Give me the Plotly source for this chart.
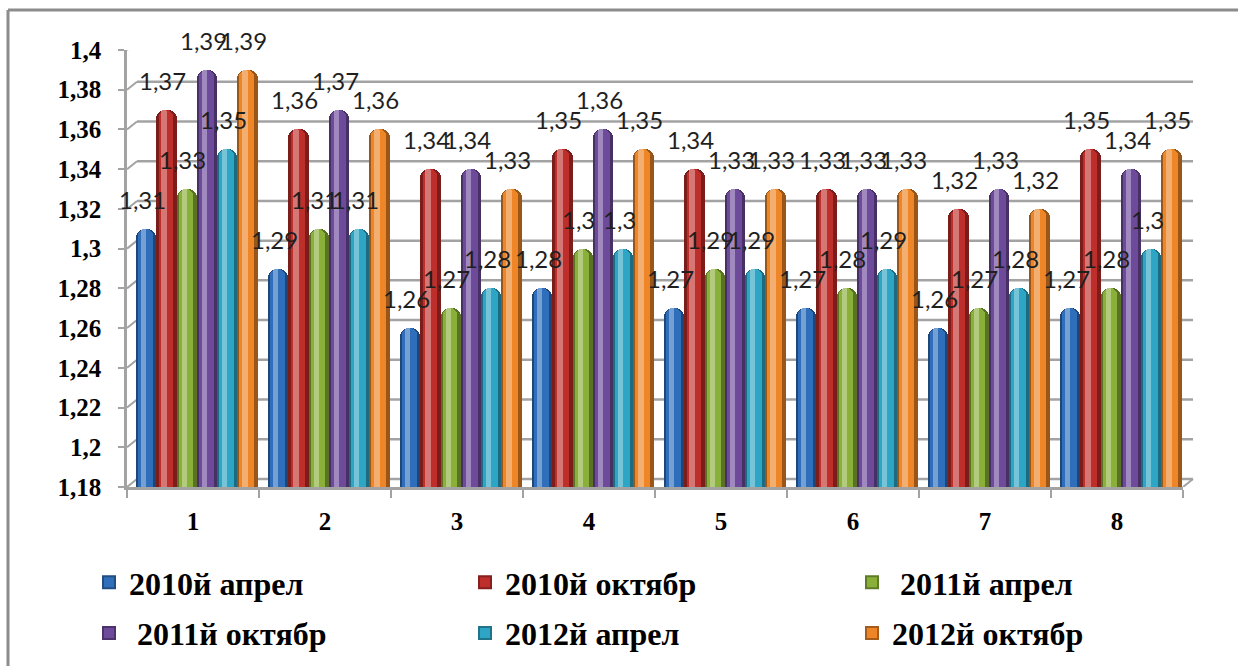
import plotly.graph_objects as go

# ---- data -------------------------------------------------------------
categories = ["1", "2", "3", "4", "5", "6", "7", "8"]
series_names = ["2010й апрел", "2010й октябр", "\u00a02011й апрел",
                "\u00a02011й октябр", "2012й апрел", "2012й октябр"]
s2010_apr = [1.31, 1.29, 1.26, 1.28, 1.27, 1.27, 1.26, 1.27]
s2010_oct = [1.37, 1.36, 1.34, 1.35, 1.34, 1.33, 1.32, 1.35]
s2011_apr = [1.33, 1.31, 1.27, 1.30, 1.29, 1.28, 1.27, 1.28]
s2011_oct = [1.39, 1.37, 1.34, 1.36, 1.33, 1.33, 1.33, 1.34]
s2012_apr = [1.35, 1.31, 1.28, 1.30, 1.29, 1.29, 1.28, 1.30]
s2012_oct = [1.39, 1.36, 1.33, 1.35, 1.33, 1.33, 1.32, 1.35]
y_ticks = [1.18, 1.20, 1.22, 1.24, 1.26, 1.28, 1.30, 1.32, 1.34, 1.36, 1.38, 1.40]

series_values = [s2010_apr, s2010_oct, s2011_apr, s2011_oct, s2012_apr, s2012_oct]

# ---- styling ----------------------------------------------------------
colors = ["#2F6EBA", "#BE2E2B", "#8AB03A", "#6E4A9B", "#2EA5C5", "#EE8527"]
legend_of = ["legend", "legend2", "legend3", "legend", "legend2", "legend3"]

WIDTH, HEIGHT = 1238, 666
M_L, M_R, M_T, M_B = 127, 55, 50, 179
PW = WIDTH - M_L - M_R
PH = HEIGHT - M_T - M_B
Y0, Y1 = y_ticks[0], y_ticks[-1]


def fmt(v):
    return f"{v:g}".replace(".", ",")


def shade(hex_color, f):
    """f < 0 darkens toward black, f > 0 lightens toward white."""
    h = hex_color.lstrip("#")
    r, g, b = (int(h[i:i + 2], 16) for i in (0, 2, 4))
    if f < 0:
        r, g, b = (int(c * (1 + f)) for c in (r, g, b))
    else:
        r, g, b = (int(c + (255 - c) * f) for c in (r, g, b))
    return f"rgb({r},{g},{b})"


def px_x(p):
    return (p - M_L) / PW


def px_y(p):
    return (HEIGHT - M_B - p) / PH


group_left, group_right = -0.43, 0.49
bw = (group_right - group_left) / len(series_values)

fig = go.Figure()
for i, (name, vals, col) in enumerate(zip(series_names, series_values, colors)):
    off = group_left + i * bw
    # cylinder body: dark rim, main colour, light highlight stripe
    layers = [
        (bw, off, shade(col, -0.35), 9),
        (bw * 0.72, off + bw * 0.10, col, 7),
        (bw * 0.26, off + bw * 0.24, shade(col, 0.35), 3),
    ]
    for w, o, c, rad in layers:
        fig.add_trace(go.Bar(
            x=categories, y=vals, name=name,
            width=w, offset=o,
            marker=dict(color=c, line=dict(width=0), cornerradius=rad),
            legendgroup=name, showlegend=False,
        ))
    # legend entry (square swatch only, no data drawn)
    fig.add_trace(go.Scatter(
        x=[None], y=[None], name=name, mode="markers",
        marker=dict(symbol="square", size=12, color=col,
                    line=dict(width=1, color=shade(col, -0.3))),
        legendgroup=name, legend=legend_of[i], showlegend=True,
    ))
    # value labels above each cylinder
    for ci, v in enumerate(vals):
        fig.add_annotation(
            x=ci + off + bw / 2, y=v, text=fmt(v),
            xref="x", yref="y", showarrow=False,
            xanchor="center", yanchor="bottom",
            xshift=-4, yshift=13,
            font=dict(family="Lato", size=24, color="#1f1f1f"),
        )

# ---- 3D-style walls: back gridlines offset up/right from the front axis
depth_px_x, depth_px_y = 10, 8
dx = depth_px_x / PW
dd = depth_px_y * (Y1 - Y0) / PH
grid_col = "#A3A3A3"
shapes = []
for v in y_ticks:
    shapes.append(dict(type="line", xref="paper", yref="y", x0=dx, x1=1 + dx,
                       y0=v + dd, y1=v + dd, layer="below",
                       line=dict(color=grid_col, width=2.5)))
    shapes.append(dict(type="line", xref="paper", yref="y", x0=0, x1=dx,
                       y0=v, y1=v + dd, layer="below",
                       line=dict(color=grid_col, width=2)))
shapes.append(dict(type="line", xref="paper", yref="y", x0=1, x1=1 + dx,
                   y0=Y0, y1=Y0 + dd, layer="below",
                   line=dict(color=grid_col, width=2)))

# outer chart frame (top and left edges fall inside the page)
frame = dict(color="#8C8C8C", width=3)
shapes.append(dict(type="line", xref="paper", yref="paper",
                   x0=px_x(8), x1=px_x(WIDTH + 5), y0=px_y(10), y1=px_y(10), line=frame))
shapes.append(dict(type="line", xref="paper", yref="paper",
                   x0=px_x(8), x1=px_x(8), y0=px_y(10), y1=px_y(HEIGHT + 5), line=frame))

serif_bold = dict(family="Liberation Serif", color="black", weight="bold")

fig.update_layout(
    width=WIDTH, height=HEIGHT,
    margin=dict(l=M_L, r=M_R, t=M_T, b=M_B, autoexpand=False),
    paper_bgcolor="white", plot_bgcolor="white",
    barmode="overlay", bargap=0,
    shapes=shapes,
    xaxis=dict(
        type="category", showgrid=False, zeroline=False,
        range=[-0.5, len(categories) - 0.5], automargin=False,
        showline=True, linecolor=grid_col, linewidth=2.5,
        ticks="outside", ticklen=8, tickwidth=2, tickcolor=grid_col,
        tickson="boundaries", ticklabelstandoff=10, tickangle=0,
        tickfont=dict(size=25, **serif_bold),
    ),
    yaxis=dict(
        range=[Y0, Y1], showgrid=False, zeroline=False, automargin=False,
        showline=True, linecolor=grid_col, linewidth=2.5,
        tickmode="array", tickvals=y_ticks, ticktext=[fmt(v) for v in y_ticks],
        ticks="outside", ticklen=6, tickwidth=2, tickcolor=grid_col,
        ticklabelstandoff=12,
        tickfont=dict(size=25, **serif_bold),
    ),
    showlegend=True,
)

legend_font = dict(size=32, **serif_bold)
for key, left in (("legend", 89), ("legend2", 465), ("legend3", 852)):
    fig.update_layout({key: dict(
        xref="paper", yref="paper",
        x=px_x(left), y=px_y(555),
        xanchor="left", yanchor="top",
        orientation="v", tracegroupgap=6,
        bgcolor="rgba(0,0,0,0)", borderwidth=0,
        font=legend_font, itemsizing="constant",
    )})

fig.write_html("out.html")
